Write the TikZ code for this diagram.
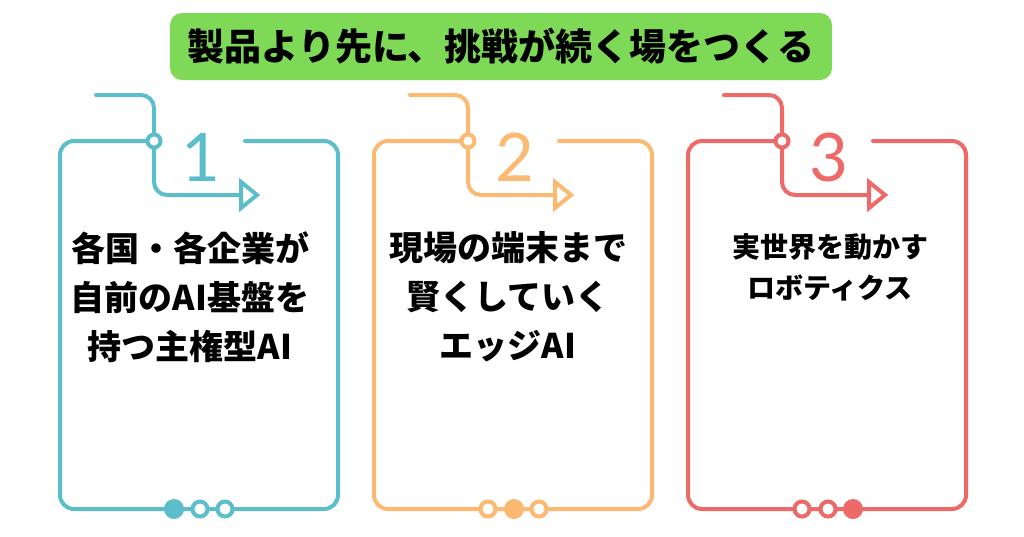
\documentclass[tikz,border=0pt]{standalone}
\usepackage{fontspec}
\newfontfamily\jp{Noto Sans CJK JP}
\newfontfamily\digitfont{Lato}
\definecolor{cteal}{HTML}{5BBECA}
\definecolor{corange}{HTML}{FBB972}
\definecolor{cred}{HTML}{EE6A68}
\definecolor{cgreen}{HTML}{7ED957}
\tikzset{
  cardline/.style={line width=4pt, line cap=round},
  digit/.style={font=\digitfont\fontsize{67}{67}\selectfont, inner sep=0pt},
  bodytext/.style={font=\jp\bfseries\fontsize{34}{49}\selectfont, align=center, inner sep=0pt, text=black},
  smalltext/.style={font=\jp\bfseries\fontsize{28}{41}\selectfont, align=center, inner sep=0pt, text=black},
  opendot/.style={line width=4pt, fill=white},
}
\newcommand\mycard[5]{%
  \begin{scope}[shift={(#1,0)}]
    \draw[cardline, draw=#2, rounded corners=14] (185,141) -- (278,141) -- (278,509) -- (0,509) -- (0,141) -- (94,141);
    \draw[cardline, draw=#2, rounded corners=13] (36,95) -| (94,195) -- (181,195);
    \draw[line width=4pt, draw=#2, line join=miter] (181,182) -- (197,195) -- (181,208) -- cycle;
    \filldraw[line width=4pt, draw=#2, fill=white] (94,141) circle[radius=6.5pt];
    \node[digit, text=#2] (#3) at (141,157) {#4};
    \foreach \dx/\k in {114/1,140/2,165/3}{
      \ifnum\k=#5
        \fill[#2] (\dx,509) circle[radius=10pt];
      \else
        \filldraw[opendot, draw=#2] (\dx,509) circle[radius=7.5pt];
      \fi
    }
  \end{scope}}
\begin{document}
\begin{tikzpicture}[x=1pt,y=-1pt]
\useasboundingbox (0,0) rectangle (1024,536);
\fill[white] (0,0) rectangle (1024,536);
\node[fill=cgreen, rounded corners=12pt, minimum width=662pt, minimum height=67pt, inner sep=0pt,
  font=\jp\bfseries\fontsize{37}{37}\selectfont] (title) at (501,46.5) {製品より先に、挑戦が続く場をつくる};
\mycard{60}{cteal}{d1}{1}{1}
\mycard{374}{corange}{d2}{2}{2}
\mycard{688}{cred}{d3}{3}{3}
\node[bodytext] (t1) at (190,297) {各国・各企業が\\自前のAI基盤を\\持つ主権型AI};
\node[bodytext] (t2) at (508,297) {現場の端末まで\\賢くしていく\\エッジAI};
\node[smalltext] (t3) at (830,267.5) {実世界を動かす\\ロボティクス};
\end{tikzpicture}
\end{document}
